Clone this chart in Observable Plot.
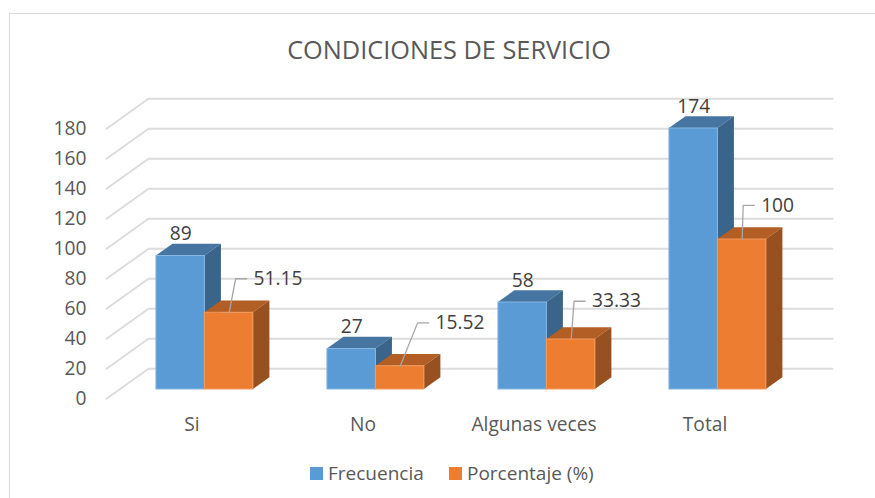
<!DOCTYPE html>
<html><head><meta charset="utf-8">
<script src="https://cdn.jsdelivr.net/npm/d3@7"></script>
<script src="https://cdn.jsdelivr.net/npm/@observablehq/plot@0.6"></script>
<style>
html,body{margin:0;padding:0;background:#fff;overflow:hidden;width:875px;height:498px}
body{position:relative;font-family:"Open Sans",sans-serif}
#frame{position:absolute;left:9px;top:13px;width:900px;height:600px;border:1.5px solid #d9d9d9;box-sizing:border-box}
#chart{position:absolute;left:0;top:0}
#title{position:absolute;left:0;width:898px;top:33px;text-align:center;font-size:25.3px;line-height:32px;color:#595959}
#legend{position:absolute;top:460px;left:0;height:26px;font-size:19px;line-height:26px;color:#595959}
#legend span{position:absolute;white-space:nowrap}
#legend i{position:absolute;width:13px;height:13px;top:7px}
</style></head><body>
<div id="frame"></div>
<div id="chart"></div>
<div id="title">CONDICIONES DE SERVICIO</div>
<div id="legend"></div>
<script>
const categories = ["Si", "No", "Algunas veces", "Total"];
const frecuencia = [89, 27, 58, 174];
const porcentaje = [51.15, 15.52, 33.33, 100];
const porcentajeLabels = ["51.15", "15.52", "33.33", "100"];
const yTicks = [0, 20, 40, 60, 80, 100, 120, 140, 160, 180];

// projection of the fake 3-D box, in data units
const wallDX = 0.2456, wallDY = 20;
const barShiftX = 0.0755, barBaseY = 6.2, barW = 0.2835, sideDX = 0.0965, sideDY = 7.8;
// leader-line elbows, offset from the top centre of each orange bar (data units)
const elbowDX = [0.038, 0.102, 0.017, 0.006];
const elbowDY = [22.7, 28.9, 25.5, 22.7];
const elbowRun = 0.065, labelGap = 0.105;

const C = {
  f: {front: "#5B9BD5", edge: "#86b6e2", top: "#4575A0", side: "#3A648A"},
  p: {front: "#ED7D31", edge: "#f39a5e", top: "#B25E25", side: "#97501F"}
};

const grid = yTicks.flatMap(v => [
  {v, x: -0.5, y: v},
  {v, x: -0.5 + wallDX, y: v + wallDY},
  {v, x: 3.5 + wallDX, y: v + wallDY}
]);

const bars = categories.flatMap((c, i) => [
  {s: "f", i, v: frecuencia[i], l: i - barW + barShiftX},
  {s: "p", i, v: porcentaje[i], l: i + barShiftX}
].map(b => ({...b, r: b.l + barW, id: c + b.s, top: b.v + barBaseY})));

const topFace = b => [
  {id: b.id, y: b.top, x1: b.l, x2: b.r},
  {id: b.id, y: b.top + sideDY, x1: b.l + sideDX, x2: b.r + sideDX}
];
const sideFace = b => [
  {id: b.id, x: b.r, y1: barBaseY, y2: b.top},
  {id: b.id, x: b.r + sideDX, y1: barBaseY + sideDY, y2: b.top + sideDY}
];

function seriesMarks(s) {
  const d = bars.filter(b => b.s === s), c = C[s];
  return [
    Plot.areaX(d.flatMap(topFace), {x1: "x1", x2: "x2", y: "y", z: "id", fill: c.top}),
    Plot.areaY(d.flatMap(sideFace), {x: "x", y1: "y1", y2: "y2", z: "id", fill: c.side}),
    Plot.rect(d, {x1: "l", x2: "r", y1: barBaseY, y2: "top", fill: c.front, stroke: c.edge, strokeWidth: 1})
  ];
}

const pBars = bars.filter(b => b.s === "p");
const leaders = pBars.flatMap(b => {
  const cx = (b.l + b.r) / 2, ex = cx + elbowDX[b.i], ey = b.top + elbowDY[b.i];
  return [
    {id: b.id, x: cx, y: b.top},
    {id: b.id, x: ex, y: ey},
    {id: b.id, x: ex + elbowRun, y: ey}
  ];
});
const pLabels = pBars.map(b => ({
  t: porcentajeLabels[b.i],
  x: (b.l + b.r) / 2 + elbowDX[b.i] + labelGap,
  y: b.top + elbowDY[b.i]
}));

const plot = Plot.plot({
  width: 875, height: 498,
  marginLeft: 106, marginRight: 85, marginTop: 128.3, marginBottom: 99.7,
  style: {fontFamily: '"Open Sans",sans-serif', background: "transparent", overflow: "visible"},
  x: {domain: [-0.5, 3.5], axis: null},
  y: {domain: [0, 180], axis: null},
  marks: [
    Plot.line(grid, {x: "x", y: "y", z: "v", stroke: "#dcdcdc", strokeWidth: 2}),
    Plot.axisY({ticks: yTicks, tickSize: 0, tickPadding: 20, label: null, fontSize: 19.2, color: "#595959"}),
    Plot.axisX({ticks: [0, 1, 2, 3], tickFormat: i => categories[i], tickSize: 0, tickPadding: 19, label: null, fontSize: 19.2, color: "#595959"}),
    ...seriesMarks("f"),
    ...seriesMarks("p"),
    Plot.line(leaders, {x: "x", y: "y", z: "id", stroke: "#a6a6a6", strokeWidth: 1.3}),
    Plot.text(bars.filter(b => b.s === "f"), {x: d => (d.l + d.r) / 2, y: "top", text: d => String(d.v), dy: -22, fontSize: 19.2, fill: "#404040"}),
    Plot.text(pLabels, {x: "x", y: "y", text: "t", textAnchor: "start", fontSize: 19.2, fill: "#404040"})
  ]
});
document.getElementById("chart").appendChild(plot);

const legend = document.getElementById("legend");
[["Frecuencia", C.f.front, 310, 328], ["Porcentaje (%)", C.p.front, 449, 467]].forEach(([t, col, sx, tx]) => {
  const i = document.createElement("i"); i.style.left = sx + "px"; i.style.background = col; legend.appendChild(i);
  const s = document.createElement("span"); s.style.left = tx + "px"; s.textContent = t; legend.appendChild(s);
});
</script>
</body></html>
